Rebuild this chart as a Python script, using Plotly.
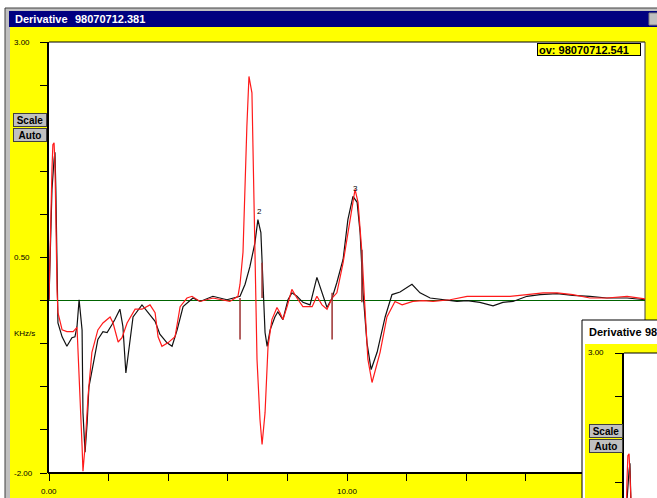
import plotly.graph_objects as go

W, H = 657, 498

# ---------------- data ----------------
black_x = [0.00, 0.03, 0.10, 0.17, 0.20, 0.23, 0.27, 0.30, 0.44, 0.60,
           0.77, 0.87, 0.94, 1.01, 1.11, 1.14, 1.21, 1.28, 1.34, 1.48,
           1.64, 1.81, 1.95, 2.11, 2.21, 2.38, 2.48, 2.58, 2.65, 2.82,
           3.12, 3.32, 3.56, 3.72, 3.96, 4.13, 4.30, 4.50, 4.83, 5.07,
           5.50, 5.97, 6.41, 6.58, 6.74, 6.91, 7.01, 7.11, 7.18, 7.25,
           7.32, 7.42, 7.58, 7.68, 7.85, 8.02, 8.15, 8.32, 8.52, 8.76,
           8.99, 9.16, 9.33, 9.50, 9.66, 9.87, 10.03, 10.20, 10.34, 10.44,
           10.54, 10.67, 10.81, 11.01, 11.28, 11.51, 11.78, 12.18, 12.45, 12.79,
           13.22, 13.69, 14.03, 14.46, 14.90, 15.23, 15.57, 16.04, 16.48, 17.05,
           17.58, 18.15, 18.72, 19.40, 20.00]
black_y = [0.01, 0.48, 1.29, 1.64, 1.72, 1.29, 0.48, -0.26, -0.42, -0.53,
           -0.43, -0.42, -0.30, 0.01, -0.34, -1.30, -1.76, -1.42, -1.00, -0.72,
           -0.45, -0.36, -0.37, -0.28, -0.22, -0.10, -0.30, -0.84, -0.65, -0.19,
           -0.05, -0.14, -0.24, -0.39, -0.49, -0.53, -0.34, -0.07, 0.03, -0.01,
           0.05, 0.01, 0.05, 0.19, 0.39, 0.67, 0.94, 0.79, 0.28, -0.37,
           -0.53, -0.34, -0.19, -0.13, -0.22, 0.01, 0.09, 0.05, -0.02, -0.05,
           0.27, 0.09, -0.08, 0.03, 0.21, 0.48, 0.94, 1.21, 1.14, 0.79,
           0.09, -0.49, -0.80, -0.60, -0.19, 0.07, 0.10, 0.19, 0.09, 0.03,
           0.01, -0.01, 0.00, -0.02, -0.06, -0.02, -0.01, 0.05, 0.07, 0.08,
           0.06, 0.05, 0.03, 0.03, 0.01]

red_x = [0.00, 0.03, 0.10, 0.13, 0.17, 0.20, 0.23, 0.27, 0.30, 0.44,
         0.60, 0.81, 0.94, 0.97, 1.04, 1.11, 1.14, 1.21, 1.31, 1.44,
         1.64, 1.81, 2.05, 2.15, 2.32, 2.45, 2.62, 2.89, 3.12, 3.39,
         3.56, 3.66, 3.79, 3.99, 4.23, 4.40, 4.63, 4.80, 5.07, 5.50,
         6.07, 6.34, 6.41, 6.51, 6.64, 6.71, 6.81, 6.88, 6.95, 6.98,
         7.08, 7.15, 7.25, 7.35, 7.48, 7.65, 7.75, 7.85, 7.99, 8.15,
         8.32, 8.52, 8.83, 8.99, 9.16, 9.33, 9.50, 9.66, 9.87, 10.10,
         10.27, 10.37, 10.50, 10.60, 10.70, 10.84, 11.11, 11.34, 11.61, 11.85,
         12.21, 12.55, 12.89, 13.46, 14.03, 14.46, 14.90, 15.47, 16.04, 16.58,
         17.05, 17.58, 18.15, 18.72, 19.40, 20.00]
red_y = [0.01, 0.59, 1.52, 1.81, 1.83, 1.58, 0.82, 0.13, -0.14, -0.34,
         -0.36, -0.36, -0.31, -0.53, -1.11, -1.69, -1.98, -1.69, -1.11, -0.60,
         -0.34, -0.26, -0.19, -0.26, -0.48, -0.43, -0.26, -0.10, -0.10, -0.05,
         -0.14, -0.42, -0.53, -0.49, -0.42, -0.07, 0.03, 0.05, -0.01, 0.03,
         -0.01, 0.05, 0.19, 0.56, 2.02, 2.60, 2.41, 1.25, 0.09, -0.68,
         -1.38, -1.67, -1.30, -0.53, -0.22, -0.08, -0.14, -0.22, -0.07, 0.13,
         0.03, -0.07, -0.07, 0.05, -0.05, -0.10, 0.03, 0.09, 0.44, 0.90,
         1.29, 1.14, 0.56, -0.07, -0.68, -0.95, -0.60, -0.19, -0.01, -0.05,
         -0.01, 0.00, -0.01, 0.01, 0.05, 0.05, 0.05, 0.05, 0.07, 0.09,
         0.09, 0.07, 0.03, 0.03, 0.05, 0.02]

marker_x = [6.41, 7.15, 9.50, 10.50]
marker_top = [0.03, 0.44, 0.09, 0.59]
marker_bottom = [-0.45, 0.03, -0.45, -0.02]

peak_labels = ["2", "3"]
peak_x = [7.05, 10.27]
peak_y = [1.03, 1.30]

ytick_vals = [3.0, 0.5, -2.0]
ytick_text = ["3.00", "0.50", "-2.00"]
xtick_vals = [0, 10]
xtick_text = ["0.00", "10.00"]
y_unit = "KHz/s"

title_name = "Derivative"
title_file = "98070712.381"
overlay_file = "98070712.541"
mini_title_file = "98"

# ---------------- helpers for decoration placement ----------------
def px(x):
    return x / W


def py(y):
    return 1 - y / H


FONT = "Liberation Sans, Arial, sans-serif"
YELLOW = "#ffff00"
NAVY = "#000080"

fig = go.Figure()

# main traces
fig.add_trace(go.Scatter(x=black_x, y=black_y, mode="lines",
                         line=dict(color="#111111", width=1.2),
                         xaxis="x", yaxis="y", showlegend=False))
fig.add_trace(go.Scatter(x=red_x, y=red_y, mode="lines",
                         line=dict(color="#ff1a1a", width=1.2),
                         xaxis="x", yaxis="y", showlegend=False))
for mx, mt, mb in zip(marker_x, marker_top, marker_bottom):
    fig.add_trace(go.Scatter(x=[mx, mx], y=[mt, mb], mode="lines",
                             line=dict(color="#9b3030", width=1.5),
                             xaxis="x", yaxis="y", showlegend=False))

# mini (second window) traces
fig.add_trace(go.Scatter(x=black_x, y=black_y, mode="lines",
                         line=dict(color="#111111", width=1.2),
                         xaxis="x2", yaxis="y2", showlegend=False))
fig.add_trace(go.Scatter(x=red_x, y=red_y, mode="lines",
                         line=dict(color="#ff1a1a", width=1.2),
                         xaxis="x2", yaxis="y2", showlegend=False))

shapes = []


def rect(x0, y0, x1, y1, fill, line=None, lw=0):
    shapes.append(dict(type="rect", xref="paper", yref="paper",
                       x0=px(x0), x1=px(x1), y0=py(y1), y1=py(y0),
                       fillcolor=fill, layer="below",
                       line=dict(color=line or fill, width=lw)))


def hline(x0, x1, y, color, w):
    shapes.append(dict(type="line", xref="paper", yref="paper",
                       x0=px(x0), x1=px(x1), y0=py(y), y1=py(y),
                       layer="below", line=dict(color=color, width=w)))


def vline(x, y0, y1, color, w):
    shapes.append(dict(type="line", xref="paper", yref="paper",
                       x0=px(x), x1=px(x), y0=py(y0), y1=py(y1),
                       layer="below", line=dict(color=color, width=w)))


# main window
rect(5, 8, 665, 505, "#c0c0c0", "#404040", 1)
rect(9, 11, 657, 27, NAVY)
rect(649, 13, 660, 25, "#c0c0c0", "#808080", 1)
rect(10, 27, 660, 505, YELLOW)
rect(49, 42, 645, 473, "#ffffff")
hline(49, 645, 42, "#000000", 1)
vline(645, 42, 320, "#404040", 1)
hline(48, 582, 473, "#000000", 2)
# second window (overlapping at bottom-right)
rect(582, 320, 665, 505, "#ffffff", "#000000", 1)
rect(585, 344, 660, 505, YELLOW)
rect(624, 353, 660, 505, "#ffffff")
hline(624, 660, 353, "#000000", 1)

annotations = []

# titles
annotations.append(dict(xref="paper", yref="paper", x=px(13), y=py(19),
                        xanchor="left", yanchor="middle", showarrow=False,
                        text="<b>%s</b>" % title_name,
                        font=dict(family=FONT, size=11, color="#ffffff")))
annotations.append(dict(xref="paper", yref="paper", x=px(73), y=py(19),
                        xanchor="left", yanchor="middle", showarrow=False,
                        text="<b>%s</b>" % title_file,
                        font=dict(family=FONT, size=11, color="#ffffff")))
annotations.append(dict(xref="paper", yref="paper", x=px(587), y=py(332),
                        xanchor="left", yanchor="middle", showarrow=False,
                        text="<b>%s</b>" % title_name,
                        font=dict(family=FONT, size=11, color="#000000")))
annotations.append(dict(xref="paper", yref="paper", x=px(643), y=py(332),
                        xanchor="left", yanchor="middle", showarrow=False,
                        text="<b>%s</b>" % mini_title_file,
                        font=dict(family=FONT, size=11, color="#000000")))

# overlay box
annotations.append(dict(xref="paper", yref="paper", x=px(537), y=py(49.5),
                        xanchor="left", yanchor="middle", showarrow=False,
                        text="<b>ov: %s</b>" % overlay_file, align="left",
                        width=100, height=9, borderpad=1, borderwidth=1,
                        bordercolor="#000000", bgcolor=YELLOW,
                        font=dict(family=FONT, size=11, color="#000000")))

# buttons
for (cx, cy, label) in [(30, 120, "Scale"), (30, 135, "Auto"),
                        (606, 431, "Scale"), (606, 446, "Auto")]:
    annotations.append(dict(xref="paper", yref="paper", x=px(cx), y=py(cy),
                            xanchor="center", yanchor="middle", showarrow=False,
                            text="<b>%s</b>" % label, width=32, height=12,
                            borderpad=0, borderwidth=1, bordercolor="#404040",
                            bgcolor="#c0c0c0",
                            font=dict(family=FONT, size=10, color="#000000")))

# axis labels
for v, t in zip(ytick_vals, ytick_text):
    annotations.append(dict(xref="paper", yref="y", x=px(12), y=v,
                            xanchor="left", yanchor="middle", showarrow=False,
                            text=t, font=dict(family=FONT, size=8, color="#000000")))
annotations.append(dict(xref="paper", yref="y2", x=px(586), y=ytick_vals[0],
                        xanchor="left", yanchor="middle", showarrow=False,
                        text=ytick_text[0],
                        font=dict(family=FONT, size=8, color="#000000")))
annotations.append(dict(xref="paper", yref="paper", x=px(12), y=py(333),
                        xanchor="left", yanchor="middle", showarrow=False,
                        text=y_unit, font=dict(family=FONT, size=8, color="#000000")))
for v, t in zip(xtick_vals, xtick_text):
    annotations.append(dict(xref="x", yref="paper", x=v, y=py(491),
                            xanchor="center", yanchor="middle", showarrow=False,
                            text=t, font=dict(family=FONT, size=8, color="#000000")))

# peak labels
for t, x, y in zip(peak_labels, peak_x, peak_y):
    annotations.append(dict(xref="x", yref="y", x=x, y=y,
                            xanchor="center", yanchor="middle", showarrow=False,
                            text=t, font=dict(family=FONT, size=8, color="#000000")))

fig.update_layout(
    width=W, height=H,
    margin=dict(l=0, r=0, t=0, b=0),
    paper_bgcolor="#ffffff",
    plot_bgcolor="rgba(0,0,0,0)",
    showlegend=False,
    shapes=shapes,
    annotations=annotations,
    xaxis=dict(domain=[49 / W, 645 / W], range=[0, 20], showgrid=False,
               zeroline=False, showline=False, ticks="outside", ticklen=7,
               tickcolor="#000000", tickwidth=1,
               tickvals=[0, 2, 4, 6, 8, 10, 12, 14, 16],
               showticklabels=False, fixedrange=True),
    yaxis=dict(domain=[(H - 473) / H, (H - 42) / H], range=[-2, 3],
               showgrid=False, zeroline=True, zerolinecolor="#006400",
               zerolinewidth=1, showline=True, linecolor="#000000",
               linewidth=2, ticks="outside", ticklen=7, tickcolor="#000000",
               tickwidth=1, tick0=-2, dtick=0.5, showticklabels=False,
               fixedrange=True),
    xaxis2=dict(domain=[624 / W, 1], range=[0, (W - 624) / 29.8],
                visible=False, anchor="y2", fixedrange=True),
    yaxis2=dict(domain=[0, (H - 353) / H], range=[3 - (H - 353) / 86.2, 3],
                anchor="x2", showgrid=False, zeroline=False, showline=True,
                linecolor="#000000", linewidth=2, ticks="outside", ticklen=7,
                tickcolor="#000000", tickwidth=1, tickvals=[1.5, 2.0, 2.5, 3.0],
                showticklabels=False, fixedrange=True),
)

fig.write_html("out.html")
